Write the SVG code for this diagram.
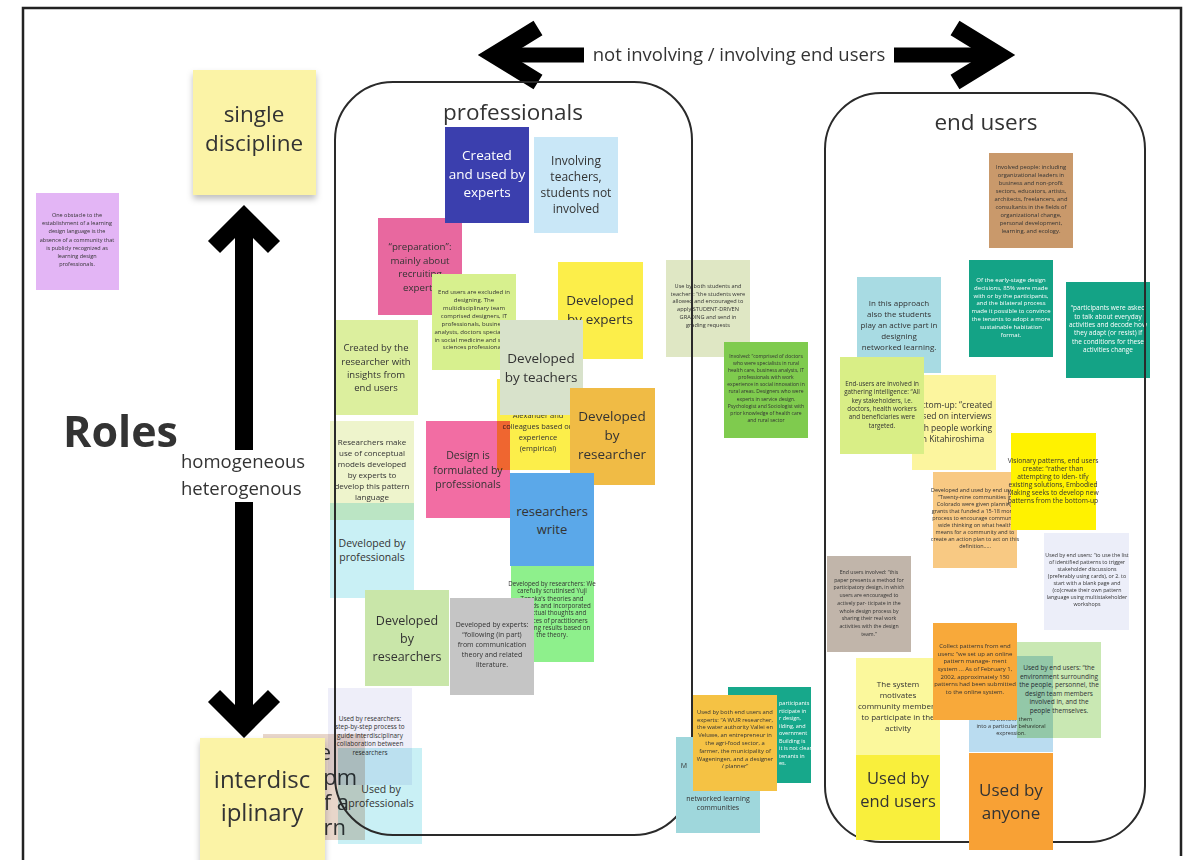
<svg xmlns="http://www.w3.org/2000/svg" width="1204" height="860" viewBox="0 0 1204 860">
<style>
text{font-family:"Open Sans","Liberation Sans",sans-serif;fill:#333;text-anchor:middle}
.w{fill:#fff}
.mul{mix-blend-mode:multiply}
.box{fill:none;stroke:#2a2a2a;stroke-width:2}
.arw{fill:none;stroke:#000;stroke-linejoin:miter;stroke-miterlimit:10}
</style>
<defs>
<filter id="sh" x="-10%" y="-10%" width="120%" height="130%"><feDropShadow dx="0" dy="4" stdDeviation="3" flood-color="#000" flood-opacity="0.25"/></filter>
</defs>
<rect width="1204" height="860" fill="#fff"/>
<g id="frame"><path d="M23 860 V8 H1181 V856" fill="none" stroke="#222" stroke-width="2.5"/></g>

<g id="connectors">
<line x1="492" y1="55" x2="1002" y2="55" stroke="#000" stroke-width="15"/>
<polyline class="arw" points="538,28 494,55 538,82" stroke-width="17"/>
<polyline class="arw" points="955,28 999,55 955,82" stroke-width="17"/>
<rect x="584" y="38" width="310" height="34" fill="#fff"/>
<text x="739" y="61" font-size="18.5" fill="#222">not involving / involving end users</text>
<line x1="244" y1="222" x2="244" y2="450" stroke="#000" stroke-width="18"/>
<line x1="244" y1="502" x2="244" y2="722" stroke="#000" stroke-width="18"/>
<polyline class="arw" points="214,247 244,217 274,247" stroke-width="17"/>
<polyline class="arw" points="214,696 244,726 274,696" stroke-width="17"/>
<text x="181" y="468" font-size="18.5" style="text-anchor:start" fill="#222">homogeneous</text>
<text x="181" y="495" font-size="18.5" style="text-anchor:start" fill="#222">heterogenous</text>
</g>

<g id="roles"><text x="63" y="447" font-size="43" font-weight="bold" style="text-anchor:start" fill="#1a1a1a">Roles</text></g>

<g id="single-discipline"><rect x="193" y="70" width="123" height="125" fill="#fbf3a6" filter="url(#sh)"/>
<text font-size="22.5"><tspan x="254" y="122">single</tspan><tspan x="254" y="151">discipline</tspan></text></g>

<g id="obstacle"><rect x="36" y="193" width="83" height="97" fill="#e3b5f5"/>
<text font-size="5.5"><tspan x="77" y="217">One obstacle to the</tspan><tspan x="77" y="225">establishment of a learning</tspan><tspan x="77" y="233">design language is the</tspan><tspan x="77" y="242">absence of a community that</tspan><tspan x="77" y="250">is publicly recognized as</tspan><tspan x="77" y="258">learning design</tspan><tspan x="77" y="266">professionals.</tspan></text></g>

<g id="preparation"><rect x="378" y="218" width="84" height="97" fill="#e8689f"/>
<text font-size="9.7"><tspan x="420" y="250">“preparation”:</tspan><tspan x="420" y="264">mainly about</tspan><tspan x="420" y="277">recruiting</tspan><tspan x="420" y="291">experts</tspan></text></g>

<g id="created-used-experts"><rect x="445" y="127" width="84" height="96" fill="#3b3fae"/>
<text font-size="13.5" class="w"><tspan x="487" y="160">Created</tspan><tspan x="487" y="179">and used by</tspan><tspan x="487" y="197">experts</tspan></text></g>

<g id="involving-teachers"><rect x="534" y="137" width="84" height="96" fill="#c9e7f7"/>
<text font-size="12"><tspan x="576" y="165">Involving</tspan><tspan x="576" y="181">teachers,</tspan><tspan x="576" y="197">students not</tspan><tspan x="576" y="213">involved</tspan></text></g>

<g id="end-users-excluded"><rect x="432" y="274" width="84" height="96" fill="#d7f08e"/>
<text font-size="6"><tspan x="474" y="294">End users are excluded in</tspan><tspan x="474" y="302">designing. The</tspan><tspan x="474" y="310">multidisciplinary team</tspan><tspan x="474" y="318">comprised designers, IT</tspan><tspan x="474" y="326">professionals, business</tspan><tspan x="474" y="334">analysts, doctors specialised</tspan><tspan x="474" y="342">in social medicine and social</tspan><tspan x="474" y="349">sciences professionals</tspan></text></g>

<g id="developed-by-experts"><rect x="558" y="262" width="85" height="97" fill="#fcee4a"/>
<text font-size="13.5"><tspan x="600" y="305">Developed</tspan><tspan x="600" y="324">by experts</tspan></text></g>

<g id="created-by-researcher"><rect x="335" y="320" width="83" height="95" fill="#dcef9e"/>
<text font-size="9.5"><tspan x="376" y="351">Created by the</tspan><tspan x="376" y="365">researcher with</tspan><tspan x="376" y="378">insights from</tspan><tspan x="376" y="391">end users</tspan></text></g>

<g id="alexander"><rect x="497" y="379" width="83" height="91" fill="#fcee4a"/>
<text font-size="7.5"><tspan x="538" y="418">Alexander and</tspan><tspan x="538" y="429">colleagues based on</tspan><tspan x="538" y="440">experience</tspan><tspan x="538" y="451">(empirical)</tspan></text></g>

<g id="developed-by-teachers"><rect x="500" y="320" width="83" height="95" fill="#d8e2cb"/>
<text font-size="13.5"><tspan x="541" y="363">Developed</tspan><tspan x="541" y="382">by teachers</tspan></text></g>

<g id="developed-by-researcher"><rect x="570" y="388" width="85" height="97" fill="#f0bb45"/>
<text font-size="13.5"><tspan x="612" y="421">Developed</tspan><tspan x="612" y="440">by</tspan><tspan x="612" y="459">researcher</tspan></text></g>

<g id="researchers-make-use"><rect x="330" y="421" width="84" height="99" fill="#eef4cc"/>
<text font-size="8"><tspan x="372" y="445">Researchers make</tspan><tspan x="372" y="456">use of conceptual</tspan><tspan x="372" y="467">models developed</tspan><tspan x="372" y="478">by experts to</tspan><tspan x="372" y="489">develop this pattern</tspan><tspan x="372" y="500">language</tspan></text></g>

<g id="design-formulated" class="mul"><rect x="426" y="421" width="84" height="97" fill="#f26da3"/>
<text font-size="10.5"><tspan x="468" y="459">Design is</tspan><tspan x="468" y="474">formulated by</tspan><tspan x="468" y="488">professionals</tspan></text></g>

<g id="researchers-write"><rect x="510" y="473" width="84" height="93" fill="#5ba8e9"/>
<text font-size="13"><tspan x="552" y="516">researchers</tspan><tspan x="552" y="534">write</tspan></text></g>

<g id="developed-by-professionals" class="mul"><rect x="330" y="503" width="84" height="95" fill="#c9f0f5"/>
<text font-size="10.5"><tspan x="372" y="547">Developed by</tspan><tspan x="372" y="561">professionals</tspan></text></g>

<g id="tanaka"><rect x="511" y="566" width="83" height="96" fill="#8ef08c"/>
<text font-size="6.2"><tspan x="552" y="586">Developed by researchers: We</tspan><tspan x="552" y="593">carefully scrutinised Yuji</tspan><tspan x="552" y="601">Tanaka's theories and</tspan><tspan x="552" y="608">methods and incorporated</tspan><tspan x="552" y="615">the actual thoughts and</tspan><tspan x="552" y="623">practices of practitioners</tspan><tspan x="552" y="630">obtaining results based on</tspan><tspan x="552" y="637">the theory.</tspan></text></g>

<g id="developed-by-researchers"><rect x="365" y="590" width="84" height="96" fill="#c9e6a9"/>
<text font-size="12.5"><tspan x="407" y="625">Developed</tspan><tspan x="407" y="643">by</tspan><tspan x="407" y="661">researchers</tspan></text></g>

<g id="communication-theory"><rect x="450" y="598" width="84" height="97" fill="#c5c5c5"/>
<text font-size="7"><tspan x="492" y="627">Developed by experts:</tspan><tspan x="492" y="637">“following (in part)</tspan><tspan x="492" y="647">from communication</tspan><tspan x="492" y="657">theory and related</tspan><tspan x="492" y="667">literature.</tspan></text></g>

<g id="pattern-note"><rect x="263" y="734" width="102" height="106" fill="#e8d6ca"/>
<text font-size="22" style="text-anchor:end"><tspan x="331" y="760">e</tspan><tspan x="357" y="785">pm</tspan><tspan x="349" y="810">f a</tspan><tspan x="346" y="835">rn</tspan></text></g>

<g id="used-by-researchers" class="mul"><rect x="328" y="688" width="84" height="97" fill="#eeeef9"/>
<text font-size="6.4"><tspan x="370" y="721">Used by researchers:</tspan><tspan x="370" y="729">step-by-step process to</tspan><tspan x="370" y="738">guide interdisciplinary</tspan><tspan x="370" y="746">collaboration between</tspan><tspan x="370" y="755">researchers</tspan></text></g>

<g id="used-by-professionals" class="mul"><rect x="338" y="748" width="84" height="96" fill="#c9f0f5"/>
<text font-size="10.5"><tspan x="381" y="793">Used by</tspan><tspan x="381" y="807">professionals</tspan></text></g>

<g id="interdisciplinary"><rect x="200" y="738" width="125" height="125" fill="#fbf3a6" filter="url(#sh)"/>
<text font-size="24"><tspan x="262" y="788">interdisc</tspan><tspan x="262" y="821">iplinary</tspan></text></g>

<g id="students-teachers"><rect x="666" y="260" width="84" height="97" fill="#dfe7c4"/>
<text font-size="5.6"><tspan x="708" y="288">Use by both students and</tspan><tspan x="708" y="296">teachers: “the students were</tspan><tspan x="708" y="303">allowed and encouraged to</tspan><tspan x="708" y="311">apply STUDENT-DRIVEN</tspan><tspan x="708" y="319">GRADING and send in</tspan><tspan x="708" y="327">grading requests</tspan></text></g>

<g id="rural-health"><rect x="724" y="342" width="84" height="96" fill="#7fcb4e"/>
<text font-size="5"><tspan x="766" y="358">Involved: “comprised of doctors</tspan><tspan x="766" y="365">who were specialists in rural</tspan><tspan x="766" y="372">health care, business analysts, IT</tspan><tspan x="766" y="379">professionals with work</tspan><tspan x="766" y="386">experience in social innovation in</tspan><tspan x="766" y="393">rural areas. Designers who were</tspan><tspan x="766" y="401">experts in service design.</tspan><tspan x="766" y="408">Psychologist and Sociologist with</tspan><tspan x="766" y="415">prior knowledge of health care</tspan><tspan x="766" y="422">and rural sector</tspan></text></g>

<g id="professionals-box"><rect class="box" x="335" y="82" width="357" height="753" rx="58"/>
<text x="513" y="120" font-size="22.5" fill="#222">professionals</text></g>

<g id="networked-communities"><rect x="676" y="737" width="84" height="96" fill="#9fd7dc"/>
<text font-size="7"><tspan x="684" y="768">M</tspan><tspan x="718" y="801">networked learning</tspan><tspan x="718" y="810">communities</tspan></text></g>

<g id="tenants"><rect x="728" y="687" width="83" height="96" fill="#17a88b"/>
<text font-size="5.5" class="w" style="text-anchor:start"><tspan x="779" y="705">participants</tspan><tspan x="779" y="713">rticipate in</tspan><tspan x="779" y="720">r design,</tspan><tspan x="779" y="728">ilding, and</tspan><tspan x="779" y="735">overnment</tspan><tspan x="779" y="743">Building is</tspan><tspan x="779" y="750">it is not clear</tspan><tspan x="779" y="758">tenants in</tspan><tspan x="779" y="765">es.</tspan></text></g>

<g id="wageningen"><rect x="693" y="695" width="84" height="96" fill="#f5c244"/>
<text font-size="5.8"><tspan x="735" y="714">Used by both end users and</tspan><tspan x="735" y="722">experts: “A WUR researcher,</tspan><tspan x="735" y="729">the water authority Vallei en</tspan><tspan x="735" y="737">Veluwe, an entrepreneur in</tspan><tspan x="735" y="745">the agri-food sector, a</tspan><tspan x="735" y="753">farmer, the municipality of</tspan><tspan x="735" y="761">Wageningen, and a designer</tspan><tspan x="735" y="768">/ planner”</tspan></text></g>

<g id="involved-people"><rect x="989" y="153" width="84" height="95" fill="#c9996b"/>
<text font-size="5.8"><tspan x="1031" y="169">Involved people: including</tspan><tspan x="1031" y="177">organizational leaders in</tspan><tspan x="1031" y="185">business and non-profit</tspan><tspan x="1031" y="193">sectors, educators, artists,</tspan><tspan x="1031" y="201">architects, freelancers, and</tspan><tspan x="1031" y="209">consultants in the fields of</tspan><tspan x="1031" y="217">organizational change,</tspan><tspan x="1031" y="225">personal development,</tspan><tspan x="1031" y="233">learning, and ecology.</tspan></text></g>

<g id="early-stage"><rect x="969" y="260" width="84" height="97" fill="#14a386"/>
<text font-size="6" class="w"><tspan x="1011" y="282">Of the early-stage design</tspan><tspan x="1011" y="290">decisions, 85% were made</tspan><tspan x="1011" y="298">with or by the participants,</tspan><tspan x="1011" y="305">and the bilateral process</tspan><tspan x="1011" y="313">made it possible to convince</tspan><tspan x="1011" y="321">the tenants to adopt a more</tspan><tspan x="1011" y="329">sustainable habitation</tspan><tspan x="1011" y="337">format.</tspan></text></g>

<g id="everyday-activities"><rect x="1066" y="282" width="84" height="96" fill="#14a386"/>
<text font-size="6.5" class="w"><tspan x="1108" y="310">“participants were asked</tspan><tspan x="1108" y="319">to talk about everyday</tspan><tspan x="1108" y="327">activities and decode how</tspan><tspan x="1108" y="335">they adapt (or resist) if</tspan><tspan x="1108" y="344">the conditions for these</tspan><tspan x="1108" y="352">activities change</tspan></text></g>

<g id="students-active"><rect x="857" y="277" width="84" height="96" fill="#a8dbe3"/>
<text font-size="8"><tspan x="899" y="306">In this approach</tspan><tspan x="899" y="317">also the students</tspan><tspan x="899" y="328">play an active part in</tspan><tspan x="899" y="339">designing</tspan><tspan x="899" y="350">networked learning.</tspan></text></g>

<g id="bottom-up"><rect x="912" y="375" width="84" height="95" fill="#fcf59e"/>
<text font-size="8.5"><tspan x="952" y="408">Bottom-up: “created</tspan><tspan x="952" y="419">based on interviews</tspan><tspan x="952" y="431">with people working</tspan><tspan x="952" y="442">in Kitahiroshima</tspan></text></g>

<g id="gathering-intelligence"><rect x="840" y="357" width="84" height="97" fill="#d9ee86"/>
<text font-size="6.3"><tspan x="882" y="386">End-users are involved in</tspan><tspan x="882" y="394">gathering intelligence: “All</tspan><tspan x="882" y="403">key stakeholders, i.e.</tspan><tspan x="882" y="411">doctors, health workers</tspan><tspan x="882" y="419">and beneficiaries were</tspan><tspan x="882" y="428">targeted.</tspan></text></g>

<g id="colorado"><rect x="933" y="472" width="84" height="96" fill="#f8c983"/>
<text font-size="5.5"><tspan x="975" y="492">Developed and used by end users:</tspan><tspan x="975" y="499">“Twenty-nine communities in</tspan><tspan x="975" y="506">Colorado were given planning</tspan><tspan x="975" y="513">grants that funded a 15-18 month</tspan><tspan x="975" y="520">process to encourage community</tspan><tspan x="975" y="527">wide thinking on what health</tspan><tspan x="975" y="534">means for a community and to</tspan><tspan x="975" y="541">create an action plan to act on this</tspan><tspan x="975" y="548">definition.....</tspan></text></g>

<g id="visionary"><rect x="1011" y="433" width="85" height="97" fill="#fff200"/>
<text font-size="6.7"><tspan x="1053" y="463">Visionary patterns, end users</tspan><tspan x="1053" y="471">create: “rather than</tspan><tspan x="1053" y="479">attempting to iden- tify</tspan><tspan x="1053" y="487">existing solutions, Embodied</tspan><tspan x="1053" y="495">Making seeks to develop new</tspan><tspan x="1053" y="503">patterns from the bottom-up</tspan></text></g>

<g id="pattern-list"><rect x="1044" y="533" width="85" height="97" fill="#eceef9"/>
<text font-size="5.3"><tspan x="1087" y="557">Used by end users: “to use the list</tspan><tspan x="1087" y="564">of identified patterns to trigger</tspan><tspan x="1087" y="571">stakeholder discussions</tspan><tspan x="1087" y="578">(preferably using cards), or 2. to</tspan><tspan x="1087" y="585">start with a blank page and</tspan><tspan x="1087" y="592">(co)create their own pattern</tspan><tspan x="1087" y="599">language using multistakeholder</tspan><tspan x="1087" y="606">workshops</tspan></text></g>

<g id="participatory-design"><rect x="827" y="556" width="84" height="96" fill="#c1b5aa"/>
<text font-size="5.2"><tspan x="869" y="574">End users involved: “this</tspan><tspan x="869" y="582">paper presents a method for</tspan><tspan x="869" y="589">participatory design, in which</tspan><tspan x="869" y="597">users are encouraged to</tspan><tspan x="869" y="605">actively par- ticipate in the</tspan><tspan x="869" y="613">whole design process by</tspan><tspan x="869" y="620">sharing their real work</tspan><tspan x="869" y="628">activities with the design</tspan><tspan x="869" y="636">team.”</tspan></text></g>

<g id="behavioral"><rect x="969" y="656" width="84" height="96" fill="#badcf0"/>
<text font-size="5.5"><tspan x="1011" y="721">to transfer them</tspan><tspan x="1011" y="728">into a particular behavioral</tspan><tspan x="1011" y="735">expression.</tspan></text></g>

<g id="system-motivates"><rect x="856" y="658" width="84" height="97" fill="#fbf89c"/>
<text font-size="8"><tspan x="898" y="687">The system</tspan><tspan x="898" y="698">motivates</tspan><tspan x="898" y="709">community members</tspan><tspan x="898" y="720">to participate in the</tspan><tspan x="898" y="731">activity</tspan></text></g>

<g id="collect-patterns"><rect x="933" y="623" width="84" height="97" fill="#f8a93a"/>
<text font-size="6"><tspan x="975" y="648">Collect patterns from end</tspan><tspan x="975" y="656">users: “we set up an online</tspan><tspan x="975" y="663">pattern manage- ment</tspan><tspan x="975" y="671">system ... As of February 1,</tspan><tspan x="975" y="679">2002, approximately 150</tspan><tspan x="975" y="686">patterns had been submitted</tspan><tspan x="975" y="694">to the online system.</tspan></text></g>

<g id="environment" class="mul"><rect x="1017" y="642" width="84" height="96" fill="#c9e8b3"/>
<text font-size="6.5"><tspan x="1059" y="670">Used by end users: “the</tspan><tspan x="1059" y="679">environment surrounding</tspan><tspan x="1059" y="687">the people, personnel, the</tspan><tspan x="1059" y="696">design team members</tspan><tspan x="1059" y="704">involved in, and the</tspan><tspan x="1059" y="713">people themselves.</tspan></text></g>

<g id="end-users-box"><rect class="box" x="825" y="93" width="320" height="749" rx="56"/>
<text x="986" y="130" font-size="22.5" fill="#222">end users</text></g>

<g id="used-by-end-users"><rect x="856" y="755" width="84" height="85" fill="#f9ef3c"/>
<text font-size="16.5"><tspan x="898" y="784">Used by</tspan><tspan x="898" y="807">end users</tspan></text></g>

<g id="used-by-anyone"><rect x="969" y="753" width="84" height="97" fill="#f8a135"/>
<text font-size="17"><tspan x="1011" y="796">Used by</tspan><tspan x="1011" y="819">anyone</tspan></text></g>
</svg>
